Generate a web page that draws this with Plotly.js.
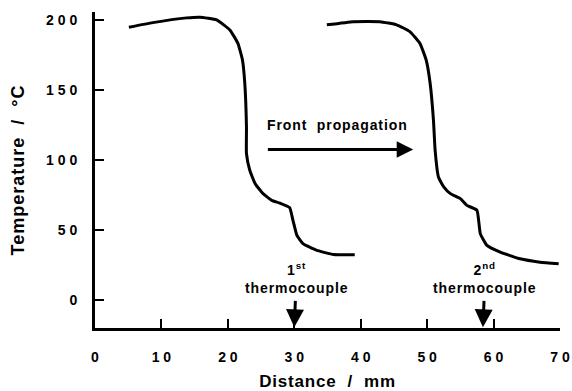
<!DOCTYPE html>
<html>
<head>
<meta charset="utf-8">
<script src="https://cdn.plot.ly/plotly-3.0.1.min.js"></script>
<style>
  html, body { margin: 0; padding: 0; background: #fff; }
  #chart { width: 572px; height: 391px; }
  .xtitle { letter-spacing: 0.8px; }
  .ytitle { letter-spacing: 1px; }
  .annotation-text { letter-spacing: 0.9px; }
</style>
</head>
<body>
<div id="chart"></div>
<script>
// First temperature profile (distance in mm, temperature in °C)
const profile1X = [5.1, 8.7, 13.8, 15.8, 18.3, 20.3, 21.5, 22.2, 22.55, 22.8, 22.8, 23.3, 24.1, 25.3, 26.6, 27.8, 29.3, 29.8, 30.4, 31.3, 33.4, 35.9, 39.1];
const profile1Y = [195.1, 198.4, 201.8, 202.3, 200.4, 193.2, 183.7, 171.7, 155.0, 123.9, 104.8, 92.8, 83.3, 76.1, 71.3, 69.4, 66.1, 57.0, 46.2, 40.3, 35.5, 32.6, 32.4];

// Second temperature profile
const profile2X = [34.9, 38.9, 42.9, 45.4, 47.4, 48.9, 49.85, 50.45, 50.95, 51.2, 51.7, 52.5, 53.5, 55.0, 56.0, 57.5, 58.0, 59.0, 61.0, 64.0, 67.0, 69.8];
const profile2Y = [196.8, 199.1, 199.1, 196.8, 192.0, 183.7, 171.7, 155.0, 128.7, 107.2, 88.0, 80.9, 76.1, 72.5, 67.7, 64.2, 47.5, 39.1, 34.3, 29.5, 27.1, 25.9];

// Axis ticks
const xTickVals = [0, 10, 20, 30, 40, 50, 60, 70];
const xTickText = ["0", "1 0", "2 0", "3 0", "4 0", "5 0", "6 0", "7 0"];
const yTickVals = [0, 50, 100, 150, 200];
const yTickText = ["0", "5 0", "1 0 0", "1 5 0", "2 0 0"];

// Thermocouple positions (mm)
const thermocoupleX = [30, 58.4];
const thermocoupleLabels = ["1<sup>st</sup><br>thermocouple", "2<sup>nd</sup><br>thermocouple"];

// Front propagation arrow
const frontArrowX = [25.8, 47.9];
const frontArrowY = 107.7;
const frontLabel = "Front  propagation";

const FONT = "Liberation Sans, Arial, sans-serif";

const traces = [
  { x: profile1X, y: profile1Y, type: "scatter", mode: "lines",
    line: { color: "#000", width: 3, shape: "spline", smoothing: 0.4 }, hoverinfo: "skip" },
  { x: profile2X, y: profile2Y, type: "scatter", mode: "lines",
    line: { color: "#000", width: 3, shape: "spline", smoothing: 0.4 }, hoverinfo: "skip" }
];

const annotations = [];
annotations.push({
  x: frontArrowX[1], y: frontArrowY, ax: frontArrowX[0], ay: frontArrowY,
  xref: "x", yref: "y", axref: "x", ayref: "y",
  text: "", showarrow: true, arrowhead: 2, arrowsize: 1.1, arrowwidth: 3, arrowcolor: "#000"
});
annotations.push({
  x: 36.5, y: 125, xref: "x", yref: "y", text: frontLabel, showarrow: false,
  font: { family: FONT, size: 14, color: "#000", weight: "bold" }
});
for (let i = 0; i < thermocoupleX.length; i++) {
  annotations.push({
    x: thermocoupleX[i], y: -19.5, ax: thermocoupleX[i] + 0.3, ay: 15.5,
    xref: "x", yref: "y", axref: "x", ayref: "y",
    text: thermocoupleLabels[i], showarrow: true, startstandoff: 3,
    arrowhead: 2, arrowsize: 1.2, arrowwidth: 3, arrowcolor: "#000",
    font: { family: FONT, size: 14, color: "#000", weight: "bold" }
  });
}

const layout = {
  width: 572, height: 391,
  margin: { l: 95, r: 12, t: 12, b: 63 },
  paper_bgcolor: "#fff", plot_bgcolor: "#fff",
  showlegend: false,
  font: { family: FONT, color: "#000" },
  xaxis: {
    range: [0, 70], showgrid: false, zeroline: false,
    showline: true, linecolor: "#000", linewidth: 3,
    ticks: "inside", ticklen: 9, tickwidth: 2, tickcolor: "#000",
    tickmode: "array", tickvals: xTickVals, ticktext: xTickText,
    tickfont: { family: FONT, size: 14, color: "#000", weight: "bold" },
    ticklabelstandoff: 14,
    title: { text: "Distance  /  mm", font: { family: FONT, size: 17, color: "#000", weight: "bold" }, standoff: 16 }
  },
  yaxis: {
    range: [-20, 206], showgrid: false, zeroline: false,
    showline: true, linecolor: "#000", linewidth: 3,
    ticks: "inside", ticklen: 9, tickwidth: 2, tickcolor: "#000",
    tickmode: "array", tickvals: yTickVals, ticktext: yTickText,
    tickfont: { family: FONT, size: 14, color: "#000", weight: "bold" },
    ticklabelstandoff: 12,
    title: { text: "Temperature  /  °C", font: { family: FONT, size: 18, color: "#000", weight: "bold" }, standoff: 17 }
  },
  annotations: annotations
};

Plotly.newPlot("chart", traces, layout, { displayModeBar: false, staticPlot: true });
</script>
</body>
</html>
